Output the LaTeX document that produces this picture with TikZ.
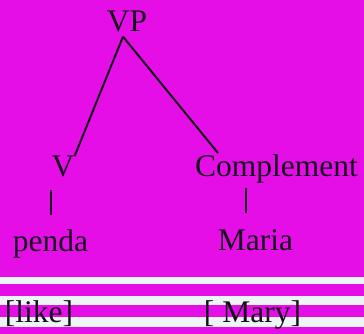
\documentclass[tikz,border=0pt]{standalone}
\usepackage{fontspec}
\setmainfont{Liberation Serif}
\definecolor{page}{RGB}{230,14,230}
\definecolor{stripe}{RGB}{238,245,247}
\definecolor{ink}{RGB}{22,16,30}
\begin{document}
\begin{tikzpicture}[x=1pt, y=1pt,
  word/.style={inner sep=0pt, anchor=base, text=ink, font=\fontsize{31.5}{36}\selectfont},
  branch/.style={draw=ink, line width=2pt}]

\fill[page] (0, 0) rectangle (364, 334);
\useasboundingbox (0, 0) rectangle (364, 334);

\fill[stripe] (0, 50) rectangle (364, 57);
\fill[stripe] (0, 29) rectangle (364, 38);
\fill[stripe] (0, 7) rectangle (364, 17);

\node[word] (vp) at (127, 302) {VP};
\node[word] (v) at (63, 157) {V};
\node[word] (compl) at (276.5, 157) {Complement};
\node[word] (penda) at (50.5, 82) {penda};
\node[word] (maria) at (255.5, 83) {Maria};
\node[word] (like) at (39, 11) {[like]};
\node[word] (mary) at (252.5, 11) {[ Mary]};

\coordinate (apex) at ([xshift=-4pt, yshift=-4pt]vp.south);

\draw[branch] (apex) -- (v.north east);
\draw[branch] (apex) -- ([xshift=23pt, yshift=2pt]compl.north west);
\draw[branch] ([yshift=15pt]penda.north) -- ([yshift=40pt]penda.north);
\draw[branch] ([xshift=-10pt, yshift=17pt]maria.north) -- ([xshift=-10pt, yshift=42pt]maria.north);

\end{tikzpicture}
\end{document}
